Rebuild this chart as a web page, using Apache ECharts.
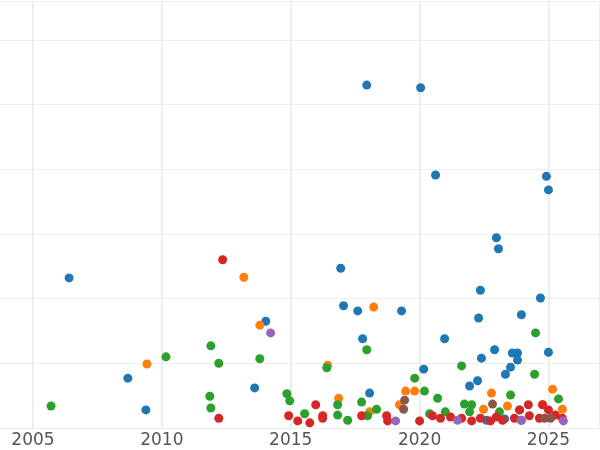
<!DOCTYPE html>
<html><head><meta charset="utf-8">
<script src="https://cdn.jsdelivr.net/npm/echarts@6/dist/echarts.min.js"></script>
<style>html,body{margin:0;padding:0;background:#fff}#c{width:600px;height:450px}</style>
</head><body><div id="c"></div>
<script>
const blue=[[2017.95,5.30],[2020.04,5.26],[2020.62,3.91],[2024.92,3.89],[2025.0,3.68],[2022.98,2.94],[2023.06,2.77],[2006.40,2.32],[2016.94,2.47],[2022.36,2.13],[2024.69,2.01],[2017.05,1.89],[2017.60,1.81],[2019.30,1.81],[2014.03,1.65],[2022.29,1.70],[2023.95,1.75],[2017.79,1.38],[2020.97,1.38],[2022.91,1.21],[2025.0,1.17],[2008.68,0.77],[2013.60,0.62],[2020.16,0.91],[2022.40,1.08],[2023.60,1.16],[2023.80,1.16],[2023.80,1.05],[2023.53,0.94],[2023.33,0.83],[2021.94,0.65],[2022.25,0.73],[2018.06,0.54],[2009.38,0.28],[2022.6,0.12],[2023.95,0.12],[2023.3,0.14]];
const orange=[[2009.42,0.99],[2013.18,2.33],[2013.80,1.59],[2018.22,1.87],[2016.43,0.97],[2016.86,0.46],[2018.06,0.25],[2019.46,0.57],[2019.81,0.57],[2019.22,0.36],[2022.79,0.54],[2022.48,0.29],[2023.41,0.34],[2025.16,0.60],[2025.54,0.29],[2024.77,0.36]];
const green=[[2005.70,0.34],[2010.16,1.10],[2011.90,1.27],[2012.21,1.0],[2011.86,0.49],[2011.90,0.31],[2013.80,1.07],[2014.85,0.53],[2014.96,0.42],[2015.54,0.22],[2016.40,0.93],[2016.82,0.36],[2016.82,0.20],[2017.21,0.12],[2017.95,1.21],[2017.75,0.40],[2018.33,0.29],[2017.98,0.19],[2019.81,0.77],[2020.19,0.57],[2020.39,0.22],[2020.70,0.46],[2021.0,0.25],[2021.63,0.96],[2021.74,0.37],[2022.02,0.36],[2021.94,0.25],[2023.53,0.51],[2024.50,1.47],[2024.46,0.83],[2025.39,0.45],[2023.1,0.25],[2023.88,0.28]];
const red=[[2012.36,2.60],[2012.21,0.15],[2014.92,0.19],[2015.27,0.11],[2015.74,0.08],[2015.97,0.36],[2016.24,0.19],[2016.24,0.15],[2017.75,0.19],[2018.72,0.19],[2018.76,0.11],[2020.0,0.11],[2020.50,0.19],[2020.81,0.15],[2021.20,0.17],[2021.63,0.15],[2022.02,0.11],[2022.36,0.15],[2022.75,0.11],[2022.98,0.17],[2023.22,0.12],[2023.68,0.15],[2024.22,0.36],[2024.26,0.19],[2024.65,0.15],[2024.77,0.36],[2025.0,0.28],[2025.27,0.20],[2025.54,0.15],[2023.88,0.28]];
const purple=[[2014.22,1.47],[2019.07,0.11],[2021.47,0.12],[2023.95,0.12],[2025.58,0.11]];
const brown=[[2019.42,0.43],[2019.38,0.29],[2022.83,0.37],[2024.85,0.15],[2025.08,0.15]];
const seriesDefs=[['blue',blue,'#1f77b4'],['orange',orange,'#ff7f0e'],['green',green,'#2ca02c'],['red',red,'#d62728'],['purple',purple,'#9467bd'],['brown',brown,'#8c564b']];
const chart=echarts.init(document.getElementById('c'));
chart.setOption({
  animation:false,
  grid:[{left:0,right:0,top:1,bottom:22,z:0},{left:33,right:0,top:1,bottom:22}],
  xAxis:[{gridIndex:0,type:'value',min:0,max:1,show:false,splitLine:{show:false}},
    {gridIndex:1,type:'value',min:2005,max:2027,interval:5,
    axisLine:{show:false},axisTick:{show:false},
    axisLabel:{color:'#555',fontSize:17,fontFamily:'DejaVu Sans',margin:4,showMaxLabel:false,formatter:v=>String(v)},
    splitLine:{lineStyle:{color:'#e8e8e8',width:1.5}}}],
  yAxis:[{gridIndex:0,type:'value',min:0,max:6.6,interval:1,
    axisLine:{show:false},axisTick:{show:false},axisLabel:{show:false},
    splitLine:{lineStyle:{color:'#eeeeee'}}},
    {gridIndex:1,type:'value',min:0,max:6.6,interval:1,show:false,splitLine:{show:false}}],
  series:seriesDefs.map(([n,d,c])=>({name:n,type:'scatter',xAxisIndex:1,yAxisIndex:1,data:d,symbolSize:9,itemStyle:{color:c,opacity:1}}))
});
</script></body></html>
